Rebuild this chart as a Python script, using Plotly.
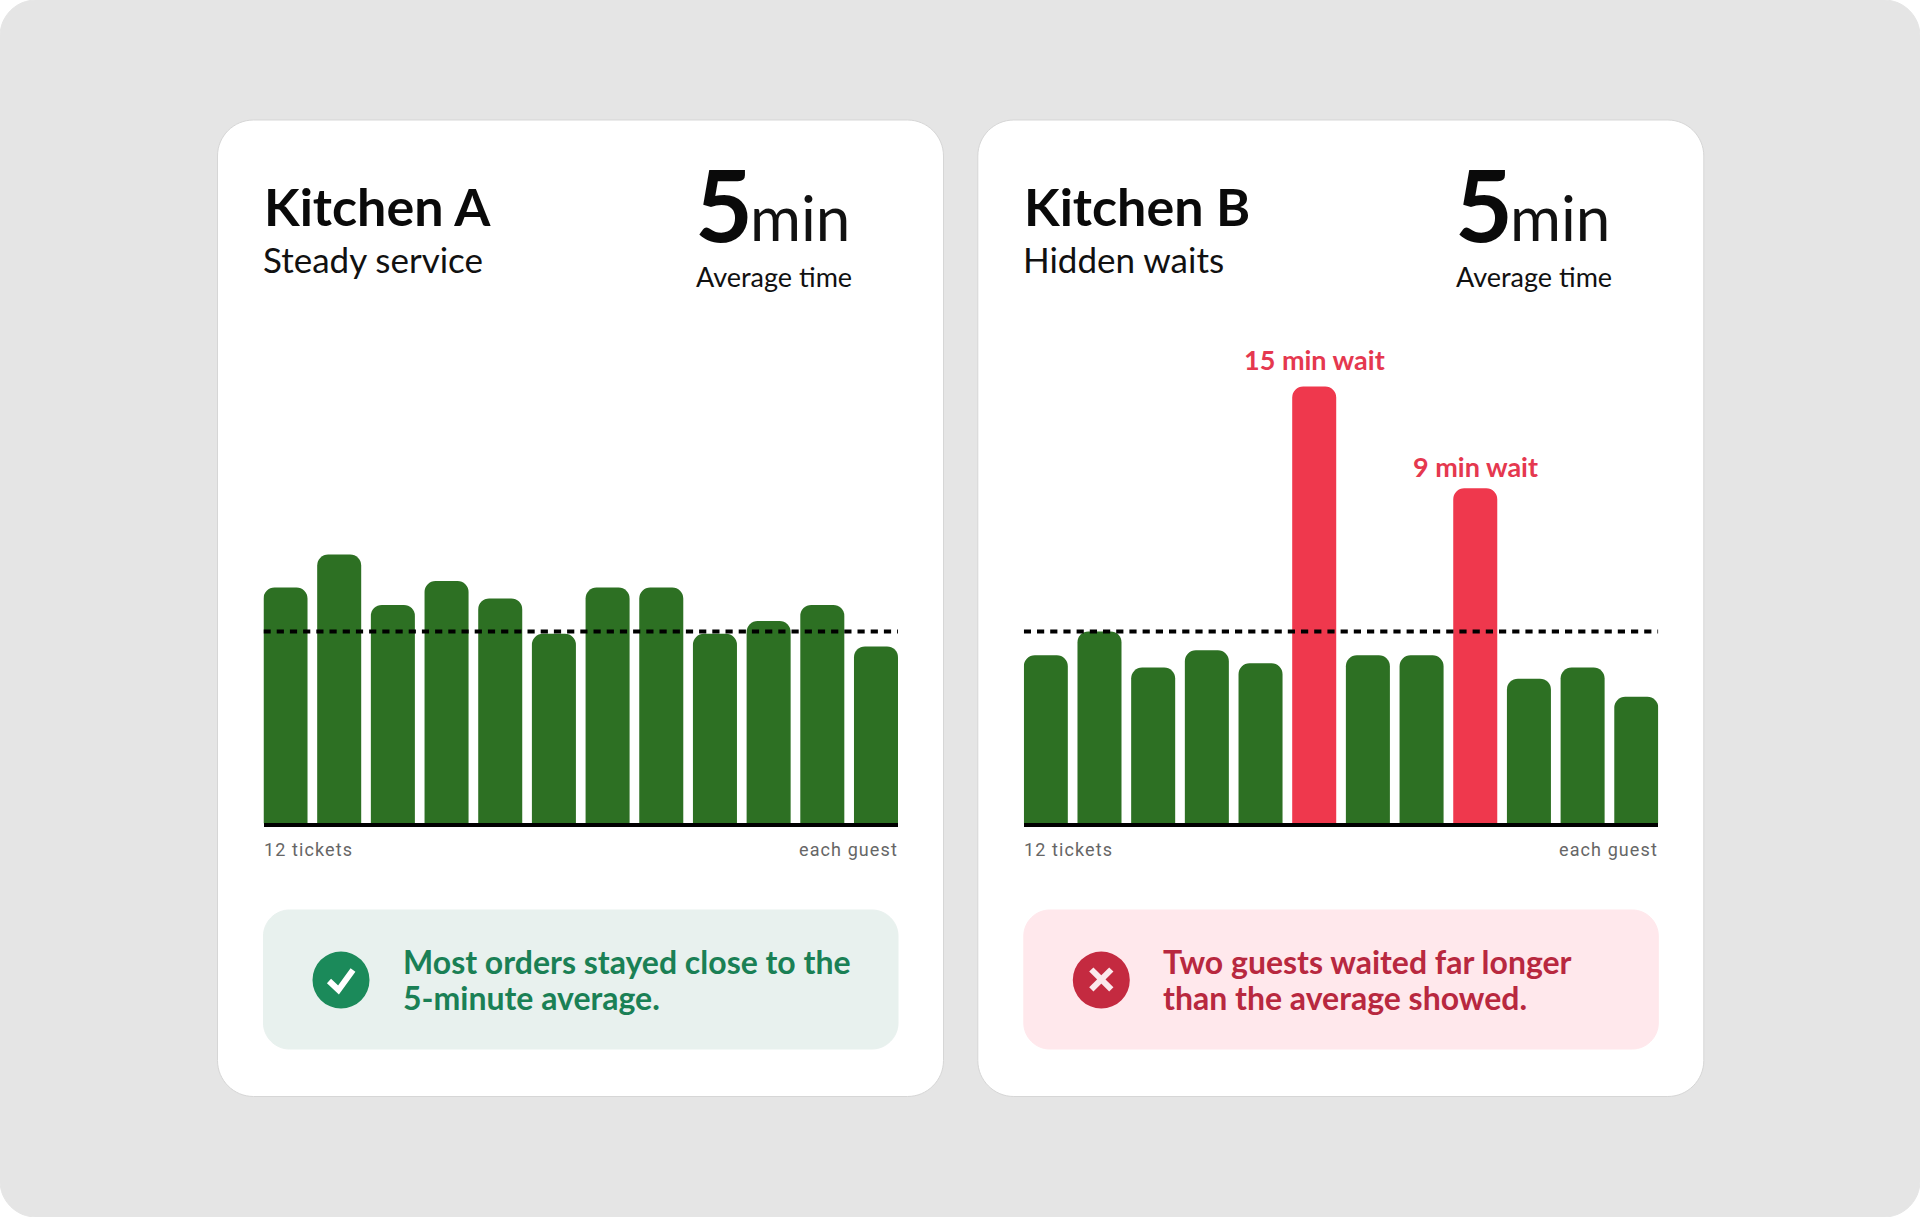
import plotly.graph_objects as go

W, H = 1920, 1217

tickets = list(range(12))
kitchen_a = [6.14, 7.0, 5.69, 6.31, 5.86, 4.94, 6.14, 6.14, 4.94, 5.27, 5.69, 4.61]
kitchen_b = [4.38, 5.0, 4.06, 4.51, 4.17, 11.38, 4.38, 4.38, 8.73, 3.77, 4.06, 3.30]
average = 5
outliers_b = {5: "15 min wait", 8: "9 min wait"}
outlier_gaps = {5: 8, 8: 3}

GREEN = "#2d7023"
RED = "#ef384d"
PLOT_TOP, PLOT_BOTTOM = 320, 823.4
PX_PER_UNIT = 38.4
CARD_OFFSET = 760.3


def fx(x):
    return x / W


def fy(y):
    return 1 - y / H


def rounded(x0, y0, x1, y1, r):
    # rounded rectangle as a path in paper coordinates
    k = r * 0.45
    pts = [
        ("M", (x0 + r, y0)), ("L", (x1 - r, y0)),
        ("C", (x1 - k, y0), (x1, y0 + k), (x1, y0 + r)),
        ("L", (x1, y1 - r)),
        ("C", (x1, y1 - k), (x1 - k, y1), (x1 - r, y1)),
        ("L", (x0 + r, y1)),
        ("C", (x0 + k, y1), (x0, y1 - k), (x0, y1 - r)),
        ("L", (x0, y0 + r)),
        ("C", (x0, y0 + k), (x0 + k, y0), (x0 + r, y0)),
    ]
    out = ""
    for p in pts:
        out += p[0] + " ".join(f"{fx(a):.5f},{fy(b):.5f}" for a, b in p[1:]) + " "
    return out + "Z"


def box(x0, y0, x1, y1, r, fill, line=None):
    return dict(
        type="path", xref="paper", yref="paper", layer="below",
        path=rounded(x0, y0, x1, y1, r), fillcolor=fill,
        line=dict(color=line or fill, width=1),
    )


def polyline(points, color, width):
    path = "M" + " L".join(f"{fx(a):.5f},{fy(b):.5f}" for a, b in points)
    return dict(type="path", xref="paper", yref="paper", path=path,
                line=dict(color=color, width=width))


def label(x, y, text, size, color, font="Lato", weight=400, anchor="left"):
    return dict(
        xref="paper", yref="paper", x=fx(x), y=fy(y), text=text,
        showarrow=False, xanchor=anchor, yanchor="middle", align=anchor,
        font=dict(family=font, size=size, color=color, weight=weight),
    )


shapes = [box(0, 0, W, H, 36, "#e5e5e5")]
annotations = []


def card(dx, name, subtitle, note, note_fill, note_color, icon_color):
    shapes.append(box(217.5 + dx, 120, 943.5 + dx, 1096.5, 36, "#ffffff", "#d6d6d6"))
    shapes.append(box(263.5 + dx, 910, 898 + dx, 1049, 26, note_fill))
    cx, cy = 341 + dx, 980
    shapes.append(dict(type="circle", xref="paper", yref="paper",
                       x0=fx(cx - 28.5), x1=fx(cx + 28.5),
                       y0=fy(cy - 28.5), y1=fy(cy + 28.5),
                       fillcolor=icon_color, line=dict(width=0)))
    annotations.extend([
        label(261.5 + dx, 205.5, name, 52, "#0a0a0a", weight=700),
        label(261 + dx, 259, subtitle, 35, "#111111"),
        label(693 + dx, 203, "5", 100, "#0a0a0a", weight=700),
        label(747.5 + dx, 216.5, "min", 62, "#111111"),
        label(774 + dx, 276, "Average time", 27, "#111111", anchor="center"),
        label(261.5 + dx, 849, "12 tickets", 18, "#666666", font="Roboto"),
        label(900 + dx, 849, "each guest", 18, "#666666", font="Roboto", anchor="right"),
        label(400.5 + dx, 961.5, note[0], 32, note_color, weight=700),
        label(400.5 + dx, 997.5, note[1], 32, note_color, weight=700),
    ])


card(0, "Kitchen A", "Steady service",
     ["Most orders stayed close to the", "5-minute average."],
     "#e8f1ee", "#1a8055", "#1b8a5a")
card(CARD_OFFSET, "Kitchen B", "Hidden waits",
     ["Two guests waited far longer", "than the average showed."],
     "#ffe8ec", "#b8283f", "#c42a40")

# icon strokes
shapes.append(polyline([(329, 981), (338.5, 990), (353, 970)], "#ffffff", 6))
bx, by = 341 + CARD_OFFSET, 979.5
shapes.append(polyline([(bx - 10, by - 10), (bx + 10, by + 10)], "#fbe9ec", 6))
shapes.append(polyline([(bx - 10, by + 10), (bx + 10, by - 10)], "#fbe9ec", 6))

fig = go.Figure()
bar_colors_b = [RED if i in outliers_b else GREEN for i in tickets]
x_range = [-0.41, 11.41]

fig.add_trace(go.Bar(x=tickets, y=kitchen_a, marker_color=GREEN, marker_line_width=0,
                     xaxis="x", yaxis="y"))
fig.add_trace(go.Bar(x=tickets, y=kitchen_b, marker_color=bar_colors_b, marker_line_width=0,
                     xaxis="x2", yaxis="y2"))
for xa, ya in [("x", "y"), ("x2", "y2")]:
    fig.add_trace(go.Scatter(
        x=x_range, y=[average, average], mode="lines", xaxis=xa, yaxis=ya,
        line=dict(color="#000000", width=4, dash="7.2px,6px"),
    ))

for i, text in outliers_b.items():
    annotations.append(dict(
        x=i, y=kitchen_b[i], xref="x2", yref="y2", text=text, showarrow=False,
        yanchor="bottom", yshift=outlier_gaps[i],
        font=dict(family="Lato", size=27, color="#e5384f", weight=700),
    ))

axis_x = dict(range=x_range, showgrid=False, zeroline=False, showticklabels=False,
              ticks="", showline=True, linecolor="#000000", linewidth=3.6)
axis_y = dict(range=[0, (PLOT_BOTTOM - PLOT_TOP) / PX_PER_UNIT], visible=False)

fig.update_layout(
    width=W, height=H,
    margin=dict(l=0, r=0, t=0, b=0),
    paper_bgcolor="#ffffff", plot_bgcolor="rgba(0,0,0,0)",
    showlegend=False, bargap=0.18, barcornerradius=11,
    xaxis=dict(axis_x, domain=[fx(263.5), fx(898)], anchor="y"),
    yaxis=dict(axis_y, domain=[fy(PLOT_BOTTOM), fy(PLOT_TOP)], anchor="x"),
    xaxis2=dict(axis_x, domain=[fx(263.5 + CARD_OFFSET), fx(898 + CARD_OFFSET)], anchor="y2"),
    yaxis2=dict(axis_y, domain=[fy(PLOT_BOTTOM), fy(PLOT_TOP)], anchor="x2"),
    shapes=shapes, annotations=annotations,
)

# plotly has no letter spacing option, the footers need it
post_script = """
document.body.style.margin = '0';
document.body.style.overflow = 'hidden';
document.querySelectorAll('.annotation-text').forEach(function (t) {
    if (t.textContent === '12 tickets' || t.textContent === 'each guest') {
        t.style.letterSpacing = '1.1px';
    }
});
"""

fig.write_html("out.html", config={"displayModeBar": False}, post_script=post_script)
